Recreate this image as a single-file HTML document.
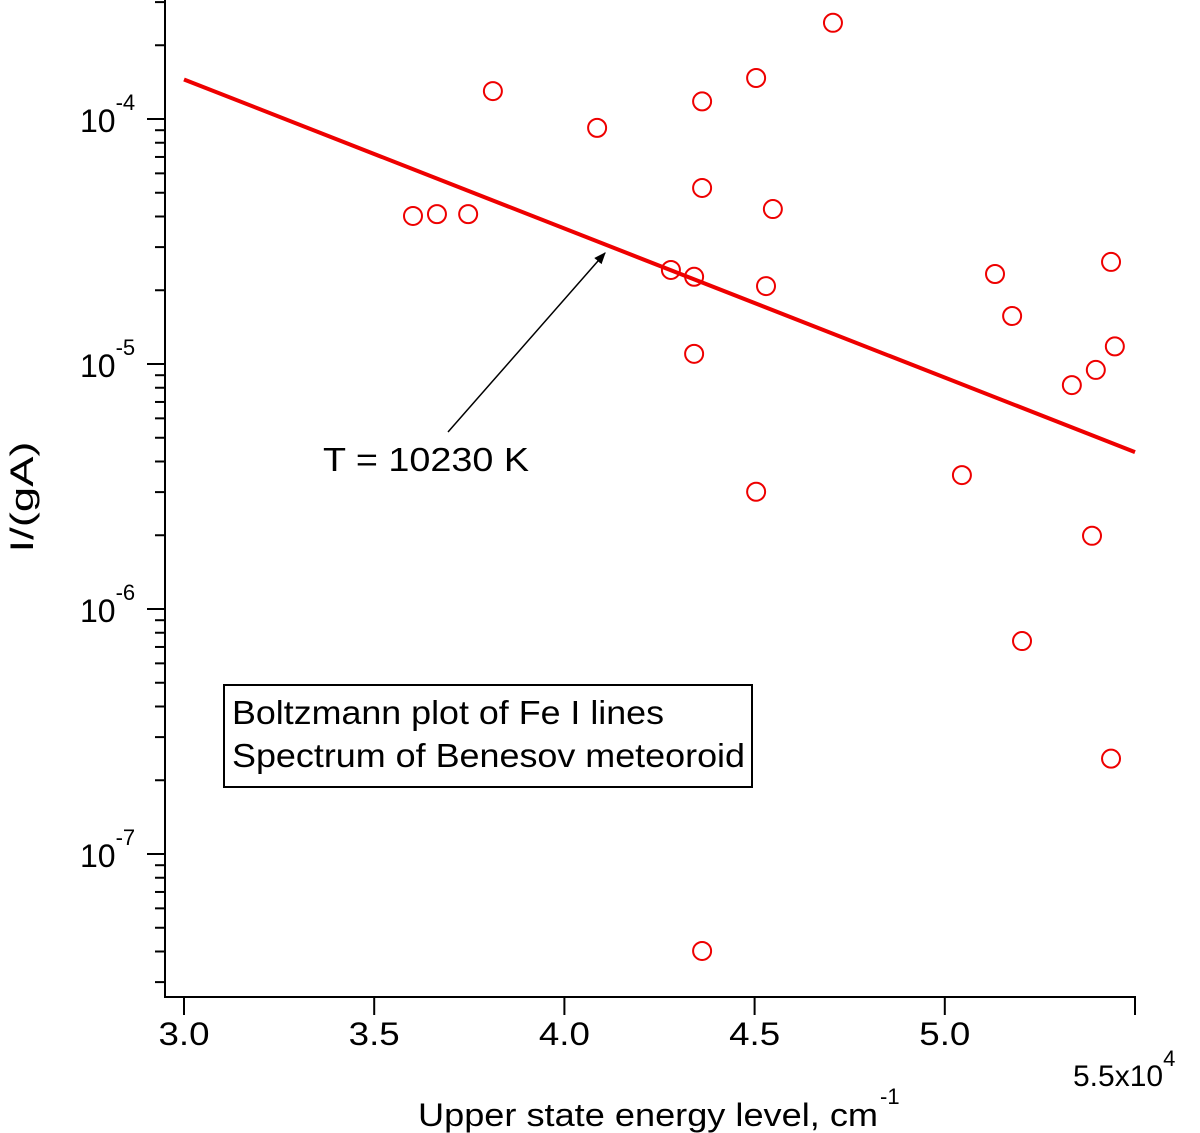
<!DOCTYPE html>
<html><head><meta charset="utf-8"><style>
html,body{margin:0;padding:0;background:#fff}
svg{display:block;font-family:"Liberation Sans",Arial,sans-serif}
</style></head><body>
<svg id="chart" width="1200" height="1133" viewBox="0 0 1200 1133">
<g id="axes"></g>
<g id="marks"></g>
</svg>
<script>
const xVals=[3.602,3.665,3.747,3.812,4.086,4.280,4.341,4.341,4.362,4.362,4.362,4.504,4.504,4.530,4.548,4.706,5.045,5.132,5.177,5.203,5.334,5.387,5.397,5.437,5.447,5.437];
const yVals=[4.02e-5,4.09e-5,4.09e-5,1.30e-4,9.2e-5,2.42e-5,2.27e-5,1.10e-5,1.18e-4,5.23e-5,4.02e-8,1.47e-4,3.01e-6,2.08e-5,4.29e-5,2.47e-4,3.52e-6,2.33e-5,1.57e-5,7.40e-7,8.2e-6,1.99e-6,9.46e-6,2.61e-5,1.18e-5,2.45e-7];
const fitX=[3.0,5.5];
const fitY=[1.45e-4,4.37e-6];
const xTicks=[3.0,3.5,4.0,4.5,5.0];
const xTickLabels=["3.0","3.5","4.0","4.5","5.0"];
const yDecades=[-4,-5,-6,-7];

const NS="http://www.w3.org/2000/svg";
const X=v=>184+(v-3)*380.4;
const Y=v=>119-(Math.log10(v)+4)*245;
function mk(p,tag,a,txt){const e=document.createElementNS(NS,tag);for(const k in a)e.setAttribute(k,a[k]);if(txt!==undefined)e.textContent=txt;p.appendChild(e);return e;}
const ax=document.getElementById('axes'),mg=document.getElementById('marks');
let e;
e=mk(ax,'line',{x1:165,y1:0,x2:165,y2:997,stroke:'#000','stroke-width':2});


e=mk(ax,'line',{x1:164,y1:997,x2:1136,y2:997,stroke:'#000','stroke-width':2});


xTicks.concat([5.5]).forEach(v=>{e=mk(ax,'line',{x1:X(v),y1:997,x2:X(v),y2:1015,stroke:'#000','stroke-width':2});

});
xTicks.forEach((v,i)=>{e=mk(ax,'text',{x:X(v),y:1045,'font-size':32,'text-anchor':'middle',textLength:51,lengthAdjust:'spacingAndGlyphs'},xTickLabels[i]);

});
e=mk(ax,'text',{x:1073,y:1086,'font-size':30},'5.5x10');


mk(e,'tspan',{dy:-20,'font-size':22},'4');
for(let d=-8;d<=-3;d++){for(let m=1;m<10;m++){const v=m*Math.pow(10,d);const y=Y(v);if(y<0||y>997)continue;
e=mk(ax,'line',{x1:m==1?147:155,y1:y,x2:165,y2:y,stroke:'#000','stroke-width':2});

}}
yDecades.forEach(d=>{e=mk(ax,'text',{x:80,y:Y(Math.pow(10,d))+13,'font-size':32},'10');


mk(e,'tspan',{dy:-22,'font-size':22},String(d));});
e=mk(ax,'text',{x:418,y:1126,'font-size':32,textLength:460,lengthAdjust:'spacingAndGlyphs'},'Upper state energy level, cm');


e=mk(ax,'text',{x:880,y:1104,'font-size':22},'-1');


e=mk(ax,'text',{x:0,y:0,'font-size':32,'text-anchor':'middle',textLength:111,lengthAdjust:'spacingAndGlyphs',transform:'translate(33,497) rotate(-90)'},'I/(gA)');


e=mk(mg,'line',{x1:X(fitX[0]),y1:Y(fitY[0]),x2:X(fitX[1]),y2:Y(fitY[1]),stroke:'#e00','stroke-width':4});


xVals.forEach((v,i)=>{e=mk(mg,'circle',{cx:X(v),cy:Y(yVals[i]),r:9,fill:'none',stroke:'#e00','stroke-width':2});

});
mk(ax,'defs',{}).innerHTML='<marker id="ah" viewBox="0 0 10 10" refX="9" refY="5" markerWidth="8" markerHeight="8" orient="auto"><path d="M0,1 L10,5 L0,9 z" fill="#000"/></marker>';
e=mk(ax,'line',{x1:448,y1:432,x2:605,y2:253,stroke:'#000','stroke-width':1.5,'marker-end':'url(#ah)'});


e=mk(ax,'text',{x:323,y:471,'font-size':33,textLength:206,lengthAdjust:'spacingAndGlyphs'},'T = 10230 K');


e=mk(ax,'rect',{x:224,y:685,width:528,height:102,fill:'#fff',stroke:'#000','stroke-width':2});


e=mk(ax,'text',{x:232,y:724,'font-size':33,textLength:432,lengthAdjust:'spacingAndGlyphs'},'Boltzmann plot of Fe I lines');


e=mk(ax,'text',{x:232,y:767,'font-size':33,textLength:513,lengthAdjust:'spacingAndGlyphs'},'Spectrum of Benesov meteoroid');


</script>
</body></html>
